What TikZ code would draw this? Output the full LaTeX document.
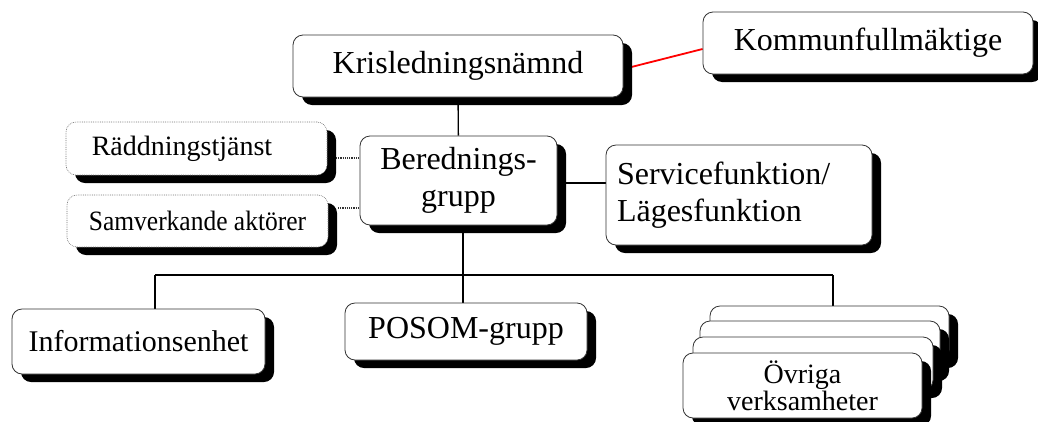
\documentclass[tikz,border=0pt]{standalone}
\usepackage{fontspec}
\setmainfont{Liberation Serif}
\usetikzlibrary{shadows,backgrounds}
\begin{document}
\begin{tikzpicture}[x=1pt,y=-1pt,
  box/.style={draw=black!80, line width=0.8pt, fill=white, rounded corners=10pt,
    inner sep=0pt, align=center,
    drop shadow={opacity=1, fill=black, shadow xshift=9pt, shadow yshift=-8pt}},
  dotbox/.style={box, draw=black!55, densely dotted, line width=0.6pt},
  big/.style={font=\fontsize{32}{37}\selectfont},
  mid/.style={font=\fontsize{28}{27}\selectfont},
  conn/.style={line width=1.4pt, black},
  dotconn/.style={line width=1.2pt, densely dotted, black!80},
  redconn/.style={line width=1.8pt, red}]
\useasboundingbox (0,0) rectangle (1038,421);

\node[box, big, minimum width=330pt, minimum height=62pt] (kom) at (868,43) {Kommunfullmäktige};
\node[box, big, minimum width=330pt, minimum height=62pt] (krl) at (458,66) {Krisledningsnämnd};
\node[box, big, minimum width=197pt, minimum height=89pt] (ber) at (458.5,180.5) {Berednings-\\grupp};
\node[dotbox, font=\fontsize{28}{32}\selectfont, minimum width=261pt, minimum height=53pt] (rad) at (196.5,148.5) {Räddningstjänst\hspace*{29pt}};
\node[dotbox, font=\fontsize{28}{32}\selectfont, minimum width=261pt, minimum height=52pt] (sam) at (197.5,221) {\scalebox{0.91}[1]{Samverkande aktörer}};
\node[box, big, minimum width=266pt, minimum height=100pt, text width=244pt, align=left] (ser) at (739,195) {Servicefunktion/\\Lägesfunktion};
\node[box, font=\fontsize{30}{34}\selectfont, minimum width=253pt, minimum height=65pt] (inf) at (138.5,341.5) {Informationsenhet};
\node[box, big, minimum width=242pt, minimum height=57pt] (pos) at (466,331.5) {POSOM-grupp};
\node[box, minimum width=239pt, minimum height=54pt] (s1) at (829.5,333) {};
\node[box, minimum width=240pt, minimum height=52pt] (s2) at (820,347) {};
\node[box, minimum width=240pt, minimum height=53pt] (s3) at (813,363.5) {};
\node[box, mid, minimum width=239pt, minimum height=65pt] (s4) at (802.5,385.5) {Övriga\\verksamheter};

\coordinate (d1) at (336,158);
\coordinate (d2) at (338,208);
\coordinate (jl) at (155,275);
\coordinate (jm) at (463,275);
\coordinate (jr) at (833,275);

\begin{pgfonlayer}{background}
\draw[conn] (krl) -- (ber);
\draw[redconn] ([yshift=-3pt]krl.east) -- ([yshift=-6pt]kom.west);
\draw[dotconn] (d1) -- (d1 -| ber.west);
\draw[dotconn] (d2) -- (d2 -| ber.west);
\draw[conn] ([yshift=-2.5pt]ber.east) -- ([yshift=-2.5pt]ber.east -| ser.west);
\draw[conn] (jm) -- (jm |- ber.south);
\draw[conn] (jl) -- (jr);
\draw[conn] (jl) -- (jl |- inf.north);
\draw[conn] (jm) -- (jm |- pos.north);
\draw[conn] (jr) -- (jr |- s1.north);
\end{pgfonlayer}
\end{tikzpicture}
\end{document}
